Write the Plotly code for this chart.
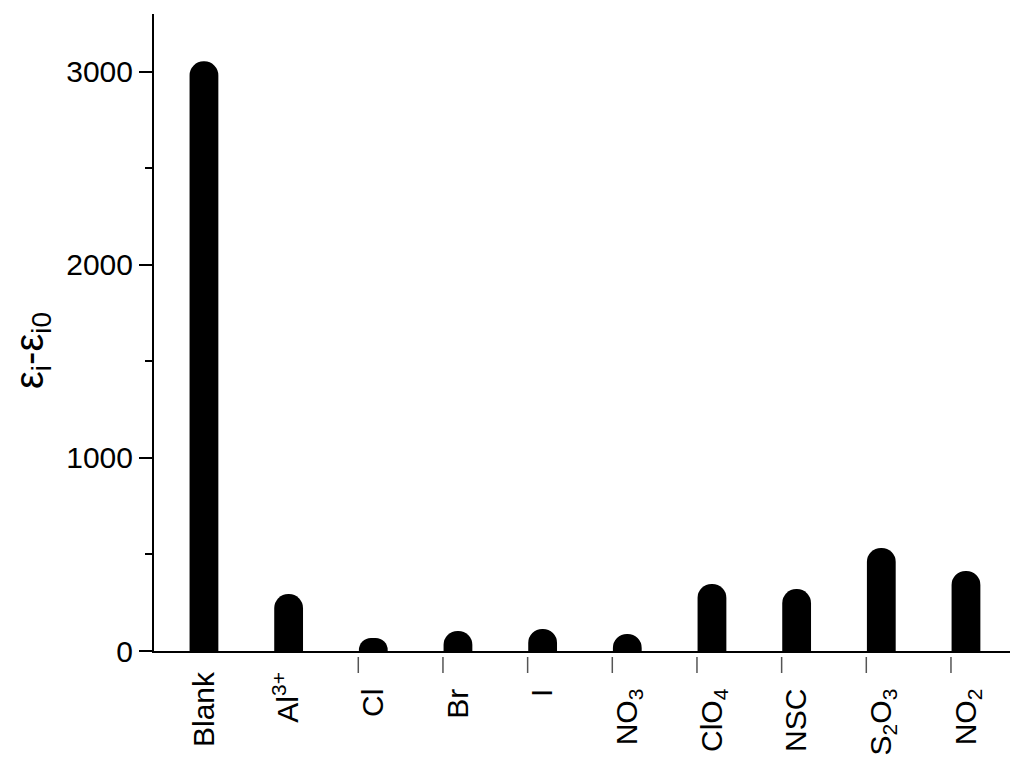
import plotly.graph_objects as go

categories = ["Blank", "Al3+", "Cl", "Br", "I", "NO3", "ClO4", "NSC", "S2O3", "NO2"]
tick_labels = ["Blank", "Al<sup>3+</sup>", "Cl", "Br", "I", "NO<sub>3</sub>",
               "ClO<sub>4</sub>", "NSC", "S<sub>2</sub>O<sub>3</sub>", "NO<sub>2</sub>"]
values = [3055, 295, 67, 104, 114, 88, 347, 321, 534, 415]
anions = ["Cl", "Br", "I", "NO3", "ClO4", "NSC", "S2O3", "NO2"]
y_title = "ε<sub>i</sub>-ε<sub>i0</sub>"

NB = "\u00a0"
labels_padded = [t + (NB * 2 if c in anions else "") for c, t in zip(categories, tick_labels)]

font = "Liberation Sans"
FS = 30

fig = go.Figure()
fig.add_trace(go.Bar(
    x=categories, y=values, width=0.34,
    marker=dict(color="black", line=dict(width=0)),
))

shapes = []
for a in anions:
    shapes.append(dict(
        type="line", xref="x", yref="paper",
        xsizemode="pixel", xanchor=a, x0=-15, x1=-15,
        ysizemode="pixel", yanchor=0, y0=-6, y1=-22,
        line=dict(color="#555555", width=1.5),
    ))

fig.update_layout(
    template="none",
    width=1024, height=763,
    margin=dict(l=154, r=14, t=14, b=112, autoexpand=False),
    paper_bgcolor="white", plot_bgcolor="white",
    barcornerradius=14,
    showlegend=False,
    font=dict(family=font, size=FS, color="black"),
    shapes=shapes,
    annotations=[dict(
        text=y_title, textangle=-90, showarrow=False,
        xref="paper", yref="paper", x=-0.1425, y=0.471,
        xanchor="center", yanchor="middle",
        font=dict(family=font, size=40, color="black"),
    )],
)
fig.update_xaxes(
    type="category", range=[-0.59, 9.52], automargin=False,
    tickvals=categories, ticktext=labels_padded,
    tickangle=-90, ticks="", showgrid=False,
    showline=True, linecolor="black", linewidth=2,
    ticklabelstandoff=7,
    tickfont=dict(family=font, size=FS, color="black"),
)
fig.update_yaxes(
    range=[0, 3300], tickvals=[0, 1000, 2000, 3000], automargin=False,
    ticks="outside", ticklen=13, tickwidth=2, tickcolor="black",
    minor=dict(dtick=500, tick0=0, ticks="outside", ticklen=7, tickwidth=2, tickcolor="black"),
    showgrid=False, zeroline=False,
    showline=True, linecolor="black", linewidth=2,
    tickfont=dict(family=font, size=FS, color="black"),
)

fig.write_html("out.html", config={"displayModeBar": False},
               post_script="document.body.style.margin='0';")
